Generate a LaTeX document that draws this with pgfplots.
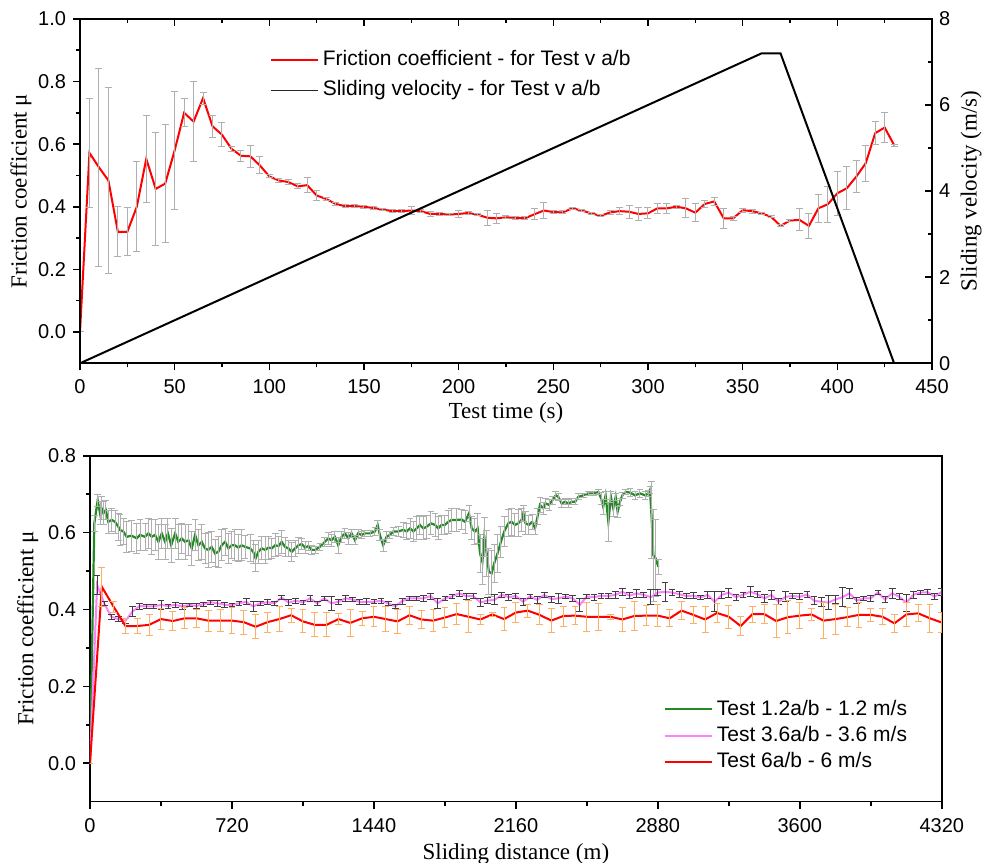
\documentclass[border=0pt]{standalone}
\usepackage{fontspec}
\setmainfont{Liberation Sans}
\newfontfamily\timesf{Liberation Serif}
\usepackage{pgfplots}
\pgfplotsset{compat=1.18}
\usepackage{pgfplotstable}
\definecolor{mygreen}{RGB}{34,139,34}
\definecolor{mypink}{RGB}{255,128,255}
\definecolor{myorange}{RGB}{255,175,100}
\definecolor{egray}{RGB}{175,175,175}
\definecolor{dgray}{RGB}{64,64,64}

\pgfplotstableread{
x y e
0 0.000 0
5 0.572 0.175
10 0.526 0.316
15 0.484 0.298
20 0.320 0.080
25 0.320 0.077
30 0.400 0.144
35 0.553 0.138
40 0.457 0.181
45 0.474 0.189
50 0.580 0.188
55 0.700 0.045
60 0.672 0.127
65 0.747 0.019
70 0.657 0.036
75 0.630 0.038
80 0.585 0.009
85 0.563 0.018
90 0.561 0.035
95 0.532 0.027
100 0.497 0.005
105 0.484 0.006
110 0.479 0.009
115 0.465 0.008
120 0.469 0.023
125 0.436 0.015
130 0.425 0.005
135 0.409 0.004
140 0.402 0.004
145 0.402 0.004
150 0.400 0.004
155 0.396 0.004
160 0.391 0.004
165 0.386 0.004
170 0.386 0.004
175 0.388 0.013
180 0.386 0.004
185 0.377 0.008
190 0.377 0.006
195 0.375 0.004
200 0.377 0.010
205 0.380 0.004
210 0.375 0.004
215 0.365 0.024
220 0.363 0.016
225 0.366 0.005
230 0.365 0.005
235 0.363 0.005
240 0.376 0.018
245 0.388 0.025
250 0.383 0.006
255 0.382 0.005
260 0.395 0.004
265 0.388 0.004
270 0.379 0.003
275 0.371 0.003
280 0.382 0.006
285 0.386 0.012
290 0.384 0.020
295 0.377 0.020
300 0.379 0.018
305 0.395 0.016
310 0.395 0.016
315 0.400 0.005
320 0.395 0.030
325 0.381 0.029
330 0.409 0.011
335 0.417 0.013
340 0.363 0.032
345 0.363 0.006
350 0.389 0.006
355 0.386 0.006
360 0.379 0.004
365 0.368 0.003
370 0.339 0.003
375 0.356 0.003
380 0.358 0.035
385 0.339 0.041
390 0.395 0.044
395 0.408 0.058
400 0.443 0.071
405 0.459 0.069
410 0.496 0.052
415 0.539 0.058
420 0.635 0.036
425 0.653 0.047
430 0.597 0.003
}\toptable

\pgfplotstableread{
x y
0 0
360 7.2
370 7.2
430 0
}\veltable

\pgfplotstableread{
x y e
0 0.000 0
22 0.624 0.02
39 0.684 0.015
51 0.650 0.03
59 0.663 0.03
68 0.650 0.03
80 0.659 0.025
93 0.628 0.03
110 0.633 0.03
127 0.628 0.03
144 0.615 0.035
152 0.607 0.04
169 0.603 0.035
186 0.589 0.04
211 0.592 0.04
237 0.585 0.04
254 0.594 0.04
279 0.589 0.035
296 0.598 0.04
313 0.589 0.045
330 0.594 0.04
347 0.576 0.045
364 0.598 0.04
381 0.576 0.045
395 0.598 0.04
412 0.567 0.045
432 0.598 0.04
448 0.576 0.045
465 0.585 0.04
482 0.576 0.045
499 0.580 0.04
516 0.559 0.045
533 0.594 0.04
550 0.567 0.04
567 0.576 0.045
583 0.559 0.04
600 0.555 0.045
617 0.563 0.04
634 0.546 0.035
651 0.550 0.04
668 0.567 0.04
685 0.576 0.035
702 0.559 0.04
718 0.567 0.035
735 0.567 0.04
752 0.561 0.035
769 0.567 0.04
786 0.563 0.03
812 0.559 0.035
828 0.550 0.03
840 0.533 0.035
854 0.550 0.03
871 0.559 0.03
888 0.555 0.035
905 0.561 0.03
922 0.559 0.025
939 0.567 0.03
956 0.565 0.025
972 0.576 0.03
989 0.563 0.025
1006 0.559 0.02
1023 0.550 0.025
1040 0.559 0.02
1057 0.567 0.02
1074 0.570 0.015
1091 0.561 0.015
1108 0.565 0.012
1125 0.555 0.012
1142 0.555 0.01
1166 0.563 0.01
1191 0.576 0.012
1208 0.585 0.015
1225 0.580 0.015
1242 0.589 0.015
1259 0.567 0.02
1276 0.589 0.015
1293 0.598 0.012
1310 0.585 0.015
1327 0.598 0.01
1344 0.580 0.012
1360 0.598 0.01
1377 0.594 0.01
1394 0.598 0.008
1420 0.598 0.008
1445 0.603 0.01
1459 0.620 0.012
1470 0.594 0.015
1487 0.567 0.015
1504 0.589 0.015
1521 0.594 0.01
1538 0.603 0.01
1563 0.603 0.012
1589 0.607 0.02
1606 0.603 0.02
1623 0.611 0.025
1640 0.603 0.025
1657 0.611 0.03
1673 0.620 0.025
1690 0.611 0.03
1707 0.615 0.03
1729 0.624 0.03
1750 0.620 0.03
1766 0.611 0.03
1783 0.620 0.025
1800 0.620 0.025
1817 0.628 0.03
1834 0.633 0.03
1859 0.633 0.03
1885 0.634 0.025
1902 0.628 0.03
1922 0.650 0.02
1936 0.611 0.03
1952 0.603 0.035
1966 0.611 0.04
1978 0.546 0.05
1990 0.524 0.06
2000 0.589 0.05
2012 0.546 0.06
2023 0.498 0.06
2037 0.494 0.06
2050 0.520 0.05
2067 0.546 0.05
2084 0.576 0.04
2101 0.603 0.04
2121 0.624 0.035
2138 0.628 0.035
2155 0.620 0.03
2172 0.624 0.035
2189 0.633 0.03
2198 0.650 0.02
2209 0.624 0.03
2226 0.620 0.025
2243 0.628 0.02
2257 0.611 0.015
2270 0.642 0.02
2282 0.672 0.02
2299 0.663 0.015
2311 0.676 0.012
2328 0.672 0.015
2345 0.684 0.01
2362 0.697 0.01
2375 0.693 0.01
2392 0.676 0.01
2409 0.680 0.008
2426 0.676 0.01
2443 0.680 0.008
2460 0.680 0.008
2477 0.693 0.008
2502 0.697 0.006
2527 0.702 0.006
2553 0.702 0.006
2578 0.706 0.006
2592 0.689 0.015
2603 0.667 0.02
2615 0.697 0.01
2629 0.628 0.05
2642 0.693 0.015
2654 0.663 0.02
2666 0.693 0.01
2676 0.654 0.015
2688 0.680 0.01
2700 0.697 0.008
2717 0.706 0.006
2739 0.704 0.01
2764 0.697 0.01
2789 0.702 0.01
2815 0.697 0.01
2832 0.702 0.008
2840 0.711 0.01
2849 0.633 0.1
2857 0.541 0.12
2869 0.533 0.1
2882 0.511 0.02
}\greentable

\pgfplotstableread{
x y e
0 0.000 0
36 0.464 0.025
72 0.416 0.006
108 0.381 0.006
144 0.375 0.006
180 0.371 0.006
216 0.395 0.012
252 0.409 0.008
288 0.408 0.006
324 0.408 0.005
360 0.412 0.012
396 0.409 0.005
432 0.412 0.006
468 0.408 0.008
504 0.412 0.005
540 0.409 0.006
576 0.414 0.005
612 0.419 0.005
648 0.416 0.008
684 0.412 0.006
720 0.412 0.005
756 0.416 0.006
792 0.420 0.008
828 0.408 0.012
864 0.416 0.006
900 0.419 0.006
936 0.416 0.005
972 0.431 0.006
1008 0.418 0.008
1044 0.423 0.006
1080 0.418 0.006
1116 0.429 0.008
1152 0.416 0.006
1188 0.429 0.006
1224 0.416 0.019
1260 0.420 0.006
1296 0.429 0.008
1332 0.426 0.006
1368 0.420 0.006
1404 0.420 0.008
1440 0.420 0.005
1476 0.423 0.006
1512 0.416 0.005
1548 0.408 0.006
1584 0.422 0.008
1620 0.429 0.006
1656 0.429 0.005
1692 0.429 0.008
1728 0.435 0.008
1764 0.416 0.012
1800 0.429 0.006
1836 0.434 0.006
1872 0.442 0.008
1908 0.435 0.008
1944 0.435 0.006
1980 0.418 0.010
2016 0.423 0.008
2052 0.425 0.013
2088 0.438 0.006
2124 0.432 0.008
2160 0.435 0.006
2196 0.420 0.010
2232 0.434 0.006
2268 0.425 0.008
2304 0.438 0.006
2340 0.427 0.008
2376 0.429 0.012
2412 0.434 0.006
2448 0.429 0.008
2484 0.412 0.016
2520 0.434 0.006
2556 0.432 0.008
2592 0.436 0.006
2628 0.435 0.006
2664 0.438 0.008
2700 0.446 0.010
2736 0.436 0.008
2772 0.442 0.010
2808 0.438 0.006
2844 0.432 0.020
2880 0.444 0.008
2916 0.446 0.024
2952 0.444 0.008
2988 0.440 0.008
3024 0.435 0.006
3060 0.436 0.008
3096 0.431 0.006
3132 0.438 0.010
3168 0.420 0.026
3204 0.438 0.008
3240 0.444 0.012
3276 0.432 0.008
3312 0.438 0.006
3348 0.446 0.013
3384 0.440 0.008
3420 0.429 0.010
3456 0.438 0.012
3492 0.420 0.008
3528 0.433 0.013
3564 0.435 0.006
3600 0.433 0.008
3636 0.439 0.008
3672 0.423 0.010
3708 0.420 0.012
3744 0.418 0.018
3780 0.426 0.010
3816 0.432 0.025
3852 0.442 0.014
3888 0.423 0.008
3924 0.429 0.006
3960 0.429 0.008
3996 0.444 0.006
4032 0.426 0.008
4068 0.442 0.012
4104 0.433 0.008
4140 0.418 0.022
4176 0.438 0.008
4212 0.444 0.006
4248 0.445 0.006
4284 0.433 0.008
4320 0.446 0.010
}\pinktable

\pgfplotstableread{
x y e
0 0.000 0
60 0.459 0.050
120 0.407 0.015
180 0.357 0.020
240 0.357 0.020
300 0.360 0.027
360 0.375 0.028
420 0.370 0.024
480 0.377 0.027
540 0.377 0.024
600 0.371 0.027
660 0.371 0.028
720 0.371 0.033
780 0.367 0.031
840 0.355 0.031
900 0.367 0.026
960 0.375 0.033
1020 0.385 0.018
1080 0.369 0.030
1140 0.360 0.031
1200 0.360 0.031
1260 0.375 0.014
1320 0.365 0.034
1380 0.377 0.019
1440 0.381 0.026
1500 0.375 0.033
1560 0.369 0.031
1620 0.385 0.024
1680 0.374 0.024
1740 0.371 0.029
1800 0.379 0.027
1860 0.388 0.027
1920 0.381 0.042
1980 0.374 0.013
2040 0.387 0.006
2100 0.375 0.029
2160 0.392 0.025
2220 0.397 0.017
2280 0.386 0.026
2340 0.371 0.031
2400 0.383 0.026
2460 0.384 0.024
2520 0.381 0.038
2580 0.381 0.035
2640 0.381 0.007
2700 0.374 0.031
2760 0.383 0.038
2820 0.384 0.026
2880 0.384 0.028
2940 0.377 0.022
3000 0.397 0.024
3060 0.386 0.022
3120 0.374 0.033
3180 0.391 0.025
3240 0.381 0.030
3300 0.357 0.025
3360 0.388 0.021
3420 0.388 0.025
3480 0.370 0.044
3540 0.380 0.043
3600 0.384 0.033
3660 0.387 0.015
3720 0.371 0.046
3780 0.375 0.039
3840 0.380 0.024
3900 0.386 0.033
3960 0.386 0.017
4020 0.381 0.021
4080 0.364 0.024
4140 0.387 0.030
4200 0.390 0.022
4260 0.377 0.037
4320 0.366 0.026
}\redtable

\pgfplotsset{
  base/.style={
    scale only axis,
    axis line style={line width=0.8pt},
    every tick/.style={line width=0.8pt, black},
    major tick length=3.5pt, minor tick length=2pt,
    tick label style={font=\fontsize{10}{12}\selectfont},
    xticklabel style={yshift=-1.2pt},
    label style={font=\timesf\fontsize{11.5}{13}\selectfont},
    /pgf/number format/assume math mode=true,
    legend cell align=left,
    legend image code/.code={\draw[##1] (0cm,0cm) -- (0.83cm,0cm);},
  },
}

\begin{document}
\begin{tikzpicture}
\useasboundingbox (0,0) rectangle (491pt,431.5pt);
% ---------- top panel, left axis ----------
\begin{axis}[base, width=426pt, height=172.2pt, at={(40pt,249.85pt)}, anchor=south west,
  xmin=0, xmax=450, ymin=-0.1, ymax=1.0,
  xtick={0,50,...,450}, minor xtick={25,75,...,425},
  ytick={0,0.2,0.4,0.6,0.8,1.0}, minor ytick={0.1,0.3,0.5,0.7,0.9},
  xtick pos=bottom, ytick pos=left, tick align=outside,
  yticklabel style={/pgf/number format/.cd, fixed, fixed zerofill, precision=1},
  xlabel={Test time (s)}, ylabel={Friction coefficient μ},
  xlabel style={at={([yshift=-27.5pt]axis description cs:0.5,0)}, anchor=base},
  ylabel style={at={([xshift=-26.7pt]axis description cs:0,0.5)}, anchor=base},
  legend style={at={(0.222,0.925)}, anchor=north west, draw=none, fill=none, inner sep=0pt,
    font=\fontsize{10.5}{12}\selectfont,
    nodes={inner xsep=2pt, inner ysep=2.5pt, text height=7.9pt, text depth=2.1pt}},
]
\addplot[red, line width=1pt, mark=none,
  error bars/.cd, y dir=both, y explicit,
  error bar style={egray, line width=0.5pt},
  error mark options={egray, line width=0.5pt, mark size=1.75pt, rotate=90}]
  table[x=x, y=y, y error=e] {\toptable};
\addlegendentry{Friction coefficient - for Test v a/b}
\addlegendimage{black!85, line width=0.5pt}
\addlegendentry{Sliding velocity - for Test v a/b}
\end{axis}
% ---------- top panel, right axis ----------
\begin{axis}[base, width=426pt, height=172.2pt, at={(40pt,249.85pt)}, anchor=south west,
  xmin=0, xmax=450, ymin=0, ymax=8,
  xtick={0,50,...,450}, minor xtick={25,75,...,425},
  xticklabels={{},{},{},{},{},{},{},{},{},{}},
  ytick={0,2,4,6,8}, minor ytick={1,3,5,7},
  xtick pos=top, ytick pos=right, yticklabel pos=right, tick align=inside,
  ylabel={Sliding velocity (m/s)},
  ylabel style={at={([xshift=22.3pt]axis description cs:1,0.5)}, anchor=base},
]
\addplot[black, line width=1pt, mark=none] table[x=x, y=y] {\veltable};
\end{axis}
% ---------- bottom panel ----------
\begin{axis}[base, width=425.9pt, height=173pt, at={(45pt,30.65pt)}, anchor=south west,
  xmin=0, xmax=4320, ymin=-0.1, ymax=0.8,
  xtick={0,720,...,4320}, minor xtick={360,1080,...,3960},
  ytick={0,0.2,0.4,0.6,0.8}, minor ytick={0.1,0.3,0.5,0.7},
  xtick pos=bottom, ytick pos=left, tick align=outside,
  scaled x ticks=false,
  xticklabel style={/pgf/number format/.cd, fixed, 1000 sep={}},
  yticklabel style={/pgf/number format/.cd, fixed, fixed zerofill, precision=1},
  xlabel={Sliding distance (m)}, ylabel={Friction coefficient μ},
  xlabel style={at={([yshift=-28.8pt]axis description cs:0.5,0)}, anchor=base},
  ylabel style={at={([xshift=-28.3pt]axis description cs:0,0.5)}, anchor=base},
  legend style={at={(0.6727,0.075)}, anchor=south west, draw=none, fill=none, inner sep=0pt,
    font=\fontsize{10.5}{12}\selectfont,
    nodes={inner xsep=2pt, inner ysep=1.6pt, text height=7.9pt, text depth=2.1pt}},
]
\addplot[mygreen, line width=1.1pt, mark=none,
  error bars/.cd, y dir=both, y explicit,
  error bar style={egray, line width=0.45pt},
  error mark options={egray, line width=0.45pt, mark size=1.7pt, rotate=90}]
  table[x=x, y=y, y error=e] {\greentable};
\addlegendentry{Test 1.2a/b - 1.2 m/s}
\addplot[mypink, line width=1pt, mark=none,
  error bars/.cd, y dir=both, y explicit,
  error bar style={dgray, line width=0.4pt},
  error mark options={dgray, line width=0.4pt, mark size=1.7pt, rotate=90}]
  table[x=x, y=y, y error=e] {\pinktable};
\addlegendentry{Test 3.6a/b - 3.6 m/s}
\addplot[red, line width=1pt, mark=none,
  error bars/.cd, y dir=both, y explicit,
  error bar style={myorange, line width=0.5pt},
  error mark options={myorange, line width=0.5pt, mark size=1.7pt, rotate=90}]
  table[x=x, y=y, y error=e] {\redtable};
\addlegendentry{Test 6a/b - 6 m/s}
\end{axis}
\end{tikzpicture}
\end{document}
